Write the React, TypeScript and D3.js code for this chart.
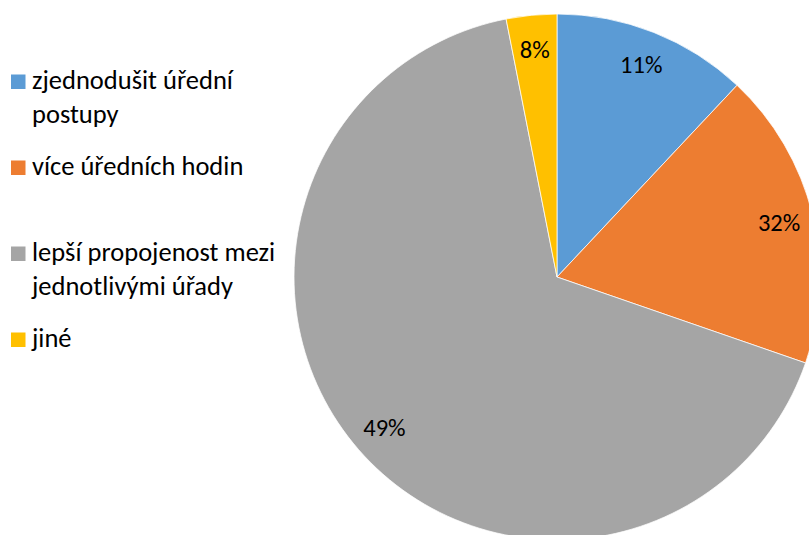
import { useMemo } from 'react';
import * as d3 from 'd3';

// slice sizes as drawn (share of the circle), labels as printed on the chart
const categories = [
  ['zjednodušit úřední', 'postupy'],
  ['více úředních hodin'],
  ['lepší propojenost mezi', 'jednotlivými úřady'],
  ['jiné'],
];
const sliceValues = [12.0, 18.3, 66.6, 3.1];
const labelTexts = ['11%', '32%', '49%', '8%'];
const colors = ['#5B9BD5', '#ED7D31', '#A5A5A5', '#FFC000'];

const WIDTH = 809;
const HEIGHT = 535;
const FONT = 'Calibri, Carlito, Lato, sans-serif';
const LEGEND_SIZE = 26.5;
const LABEL_SIZE = 24.5;

interface Slice {
  name: string[];
  value: number;
  label: string;
  color: string;
}

export default function App() {
  const slices: Slice[] = useMemo(
    () => categories.map((name, i) => ({ name, value: sliceValues[i], label: labelTexts[i], color: colors[i] })),
    []
  );

  const cx = 557;
  const cy = 277;
  const radius = 263;

  const pie = d3.pie<Slice>().sort(null).value((d) => d.value);
  const arcs = pie(slices);
  const arc = d3.arc<d3.PieArcDatum<Slice>>().innerRadius(0).outerRadius(radius);
  const labelArc = d3.arc<d3.PieArcDatum<Slice>>().innerRadius(radius * 0.87).outerRadius(radius * 0.87);

  // legend: items evenly spaced, wrapped lines below each other
  const legendY = d3.scaleLinear().domain([0, 1]).range([89, 175]);
  const lineGap = 34;

  return (
    <svg
      width={WIDTH}
      height={HEIGHT}
      style={{ position: 'absolute', left: 0, top: 0, display: 'block', background: '#fff' }}
      fontFamily={FONT}
    >
      <g transform={`translate(${cx},${cy})`}>
        {arcs.map((a) => (
          <path key={a.data.label} d={arc(a) ?? ''} fill={a.data.color} stroke="#fff" strokeWidth={0.75} />
        ))}
        {arcs.map((a) => {
          const [lx, ly] = labelArc.centroid(a);
          return (
            <text
              key={`l-${a.data.label}`}
              x={lx}
              y={ly}
              dy="0.35em"
              textAnchor="middle"
              fontSize={LABEL_SIZE}
              fill="#000"
            >
              {a.data.label}
            </text>
          );
        })}
      </g>
      <g>
        {slices.map((s, i) => {
          const base = legendY(i);
          return (
            <g key={s.name.join(' ')}>
              <rect x={11} y={base - 14.5} width={14.5} height={14.5} fill={s.color} />
              {s.name.map((line, j) => (
                <text key={line} x={32} y={base + j * lineGap} fontSize={LEGEND_SIZE} fill="#000">
                  {line}
                </text>
              ))}
            </g>
          );
        })}
      </g>
    </svg>
  );
}
